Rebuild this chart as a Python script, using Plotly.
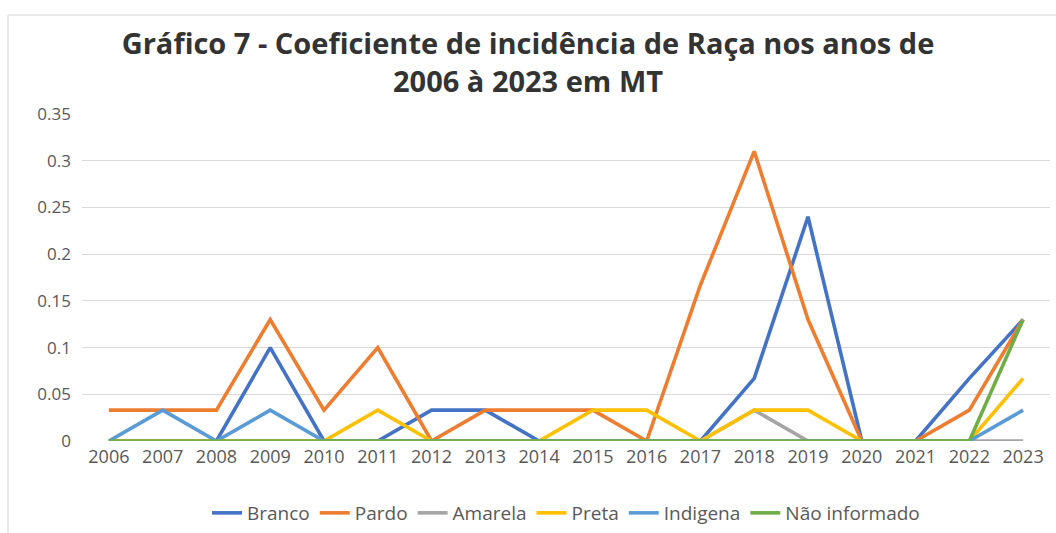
import plotly.graph_objects as go

years = [str(y) for y in range(2006, 2024)]
branco = [0, 0, 0, 0.1, 0, 0, 0.033, 0.033, 0, 0, 0, 0, 0.067, 0.24, 0, 0, 0.067, 0.13]
pardo = [0.033, 0.033, 0.033, 0.13, 0.033, 0.1, 0, 0.033, 0.033, 0.033, 0, 0.167, 0.31, 0.13, 0, 0, 0.033, 0.13]
amarela = [0, 0, 0, 0, 0, 0, 0, 0, 0, 0, 0, 0, 0.033, 0, 0, 0, 0, 0]
preta = [0, 0, 0, 0, 0, 0.033, 0, 0, 0, 0.033, 0.033, 0, 0.033, 0.033, 0, 0, 0, 0.067]
indigena = [0, 0.033, 0, 0.033, 0, 0, 0, 0, 0, 0, 0, 0, 0, 0, 0, 0, 0, 0.033]
nao_informado = [0, 0, 0, 0, 0, 0, 0, 0, 0, 0, 0, 0, 0, 0, 0, 0, 0, 0.13]

series = [
    ("Branco", branco, "#4472C4"),
    ("Pardo", pardo, "#ED7D31"),
    ("Amarela", amarela, "#A5A5A5"),
    ("Preta", preta, "#FFC000"),
    ("Indigena", indigena, "#5B9BD5"),
    ("Não informado", nao_informado, "#70AD47"),
]

W, H = 1056, 533
L, R, T, B = 82, 6, 114, 92

fig = go.Figure()
for name, vals, color in series:
    fig.add_trace(go.Scatter(x=years, y=vals, name=name, mode="lines",
                             line=dict(color=color, width=3.6)))

font_family = "Open Sans"
tick_color = "#595959"

pw = W - L - R
ph = H - T - B
def px_x(px):
    return (px - L) / pw
def px_y(py):
    return (H - B - py) / ph

fig.update_layout(
    width=W, height=H,
    margin=dict(l=L, r=R, t=T, b=B, autoexpand=False),
    paper_bgcolor="white", plot_bgcolor="white",
    font=dict(family=font_family, color=tick_color),
    title=dict(text="<b>Gráfico 7 - Coeficiente de incidência de Raça nos anos de<br>2006 à 2023 em MT</b>",
               x=0.5, xref="container", xanchor="center",
               y=1 - 54 / H, yref="container", yanchor="top",
               font=dict(family=font_family, size=29, color="#333333")),
    xaxis=dict(type="category", range=[-0.5, 17.5], showgrid=False, showline=False,
               ticks="", ticklabelstandoff=3, tickfont=dict(size=18, color=tick_color)),
    yaxis=dict(range=[0, 0.35], dtick=0.05, showgrid=True, gridcolor="#d9d9d9", gridwidth=1,
               zeroline=False, showline=False, ticks="", ticklabelstandoff=10,
               tickfont=dict(size=17, color=tick_color)),
    legend=dict(orientation="h", x=0.5, xanchor="center", y=px_y(513),
                yanchor="middle", font=dict(size=19, color=tick_color), itemwidth=30),
    showlegend=True,
)

fig.add_shape(type="line", xref="paper", yref="paper", x0=px_x(8), x1=px_x(8), y0=px_y(15), y1=px_y(533),
              line=dict(color="#e3e3e3", width=1.5))
fig.add_shape(type="line", xref="paper", yref="paper", x0=px_x(8), x1=px_x(1056), y0=px_y(15), y1=px_y(15),
              line=dict(color="#e3e3e3", width=1.5))

fig.write_html("out.html", config={"displayModeBar": False},
               post_script="document.body.style.margin='0';")
